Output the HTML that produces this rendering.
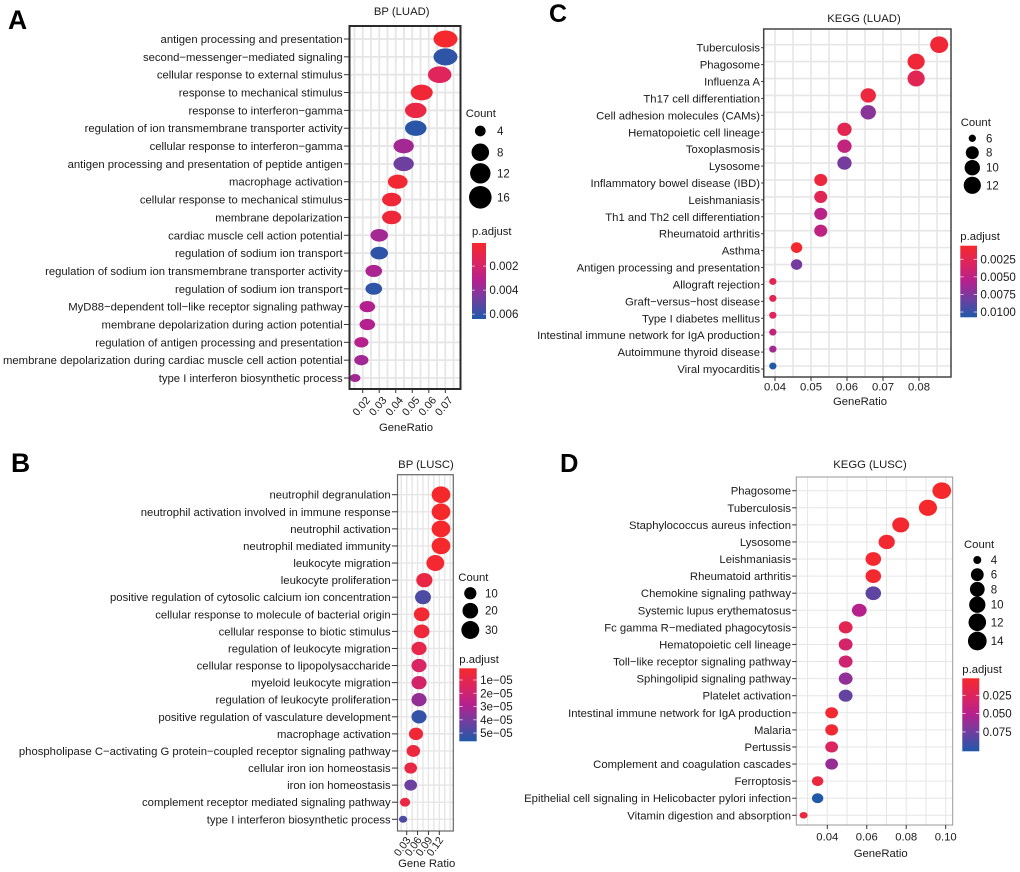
<!DOCTYPE html>
<html lang="en">
<head>
<meta charset="utf-8">
<title>Enrichment dot plots</title>
<style>
html,body{margin:0;padding:0;background:#fff;width:1020px;height:872px;overflow:hidden}
svg{display:block;font-family:"Liberation Sans",Arial,sans-serif;fill:#1a1a1a;filter:blur(0.35px)}
</style>
</head>
<body>
<svg id="figure" width="1020" height="872" viewBox="0 0 1020 872" xmlns="http://www.w3.org/2000/svg">
<defs>
<linearGradient id="padjust-gradient" x1="0" y1="0" x2="0" y2="1">
<stop offset="0" stop-color="#f5282c"/>
<stop offset="0.25" stop-color="#dc2560"/>
<stop offset="0.5" stop-color="#b3218f"/>
<stop offset="0.75" stop-color="#6c409f"/>
<stop offset="1" stop-color="#2059a9"/>
</linearGradient>
</defs>
<text x="8" y="29" font-size="26.5" font-weight="bold" fill="#000">A</text>
<text x="11" y="472" font-size="26.5" font-weight="bold" fill="#000">B</text>
<text x="549" y="22" font-size="25" font-weight="bold" fill="#000">C</text>
<text x="560" y="472" font-size="25.5" font-weight="bold" fill="#000">D</text>
</svg>
<script>
/* ---------- Panel A : BP (LUAD) ---------- */
const termsA = ["antigen processing and presentation","second\u2212messenger\u2212mediated signaling","cellular response to external stimulus","response to mechanical stimulus","response to interferon\u2212gamma","regulation of ion transmembrane transporter activity","cellular response to interferon\u2212gamma","antigen processing and presentation of peptide antigen","macrophage activation","cellular response to mechanical stimulus","membrane depolarization","cardiac muscle cell action potential","regulation of sodium ion transport","regulation of sodium ion transmembrane transporter activity","regulation of sodium ion transport","MyD88\u2212dependent toll\u2212like receptor signaling pathway","membrane depolarization during action potential","regulation of antigen processing and presentation","membrane depolarization during cardiac muscle cell action potential","type I interferon biosynthetic process"];
const ratioA = [0.0701,0.0701,0.0666,0.0557,0.0521,0.0521,0.0448,0.0448,0.0412,0.0375,0.0375,0.03,0.03,0.0267,0.0267,0.0228,0.0228,0.0192,0.0192,0.0154];
const countA = [19,19,18,15,14,14,12,12,11,10,10,8,8,7,7,6,6,5,5,4];
const padjA = [0.0001,0.0061,0.0015,0.0004,0.0008,0.0062,0.0036,0.0048,0.0003,0.0004,0.0005,0.0036,0.0061,0.0034,0.0061,0.0032,0.0032,0.0031,0.0036,0.0036];
const xTicksA = [0.02,0.03,0.04,0.05,0.06,0.07];
const sizeKeysA = [4,8,12,16];
const colorTicksA = [0.002,0.004,0.006];

/* ---------- Panel B : BP (LUSC) ---------- */
const termsB = ["neutrophil degranulation","neutrophil activation involved in immune response","neutrophil activation","neutrophil mediated immunity","leukocyte migration","leukocyte proliferation","positive regulation of cytosolic calcium ion concentration","cellular response to molecule of bacterial origin","cellular response to biotic stimulus","regulation of leukocyte migration","cellular response to lipopolysaccharide","myeloid leukocyte migration","regulation of leukocyte proliferation","positive regulation of vasculature development","macrophage activation","phospholipase C\u2212activating G protein\u2212coupled receptor signaling pathway","cellular iron ion homeostasis","iron ion homeostasis","complement receptor mediated signaling pathway","type I interferon biosynthetic process"];
const ratioB = [0.1246,0.1246,0.1246,0.1246,0.109,0.0787,0.075,0.0713,0.0713,0.064,0.064,0.064,0.064,0.064,0.0557,0.0484,0.041,0.041,0.0254,0.02];
const countB = [34,34,34,34,30,22,21,20,20,18,18,18,18,18,15,13,11,11,7,6];
const padjB = [0.12e-5,0.12e-5,0.12e-5,0.12e-5,0.23e-5,0.78e-5,4.8e-5,0.29e-5,0.5e-5,0.95e-5,1.6e-5,1.8e-5,3.5e-5,5.3e-5,0.4e-5,0.56e-5,0.78e-5,4.25e-5,0.78e-5,4.8e-5];
const xTicksB = [0.03,0.06,0.09,0.12];
const sizeKeysB = [10,20,30];
const colorTicksB = [1e-5,2e-5,3e-5,4e-5,5e-5];
const colorTickLabelsB = ["1e\u221205","2e\u221205","3e\u221205","4e\u221205","5e\u221205"];

/* ---------- Panel C : KEGG (LUAD) ---------- */
const termsC = ["Tuberculosis","Phagosome","Influenza A","Th17 cell differentiation","Cell adhesion molecules (CAMs)","Hematopoietic cell lineage","Toxoplasmosis","Lysosome","Inflammatory bowel disease (IBD)","Leishmaniasis","Th1 and Th2 cell differentiation","Rheumatoid arthritis","Asthma","Antigen processing and presentation","Allograft rejection","Graft\u2212versus\u2212host disease","Type I diabetes mellitus","Intestinal immune network for IgA production","Autoimmune thyroid disease","Viral myocarditis"];
const ratioC = [0.0856,0.0792,0.0792,0.0659,0.0659,0.0593,0.0593,0.0593,0.0527,0.0527,0.0527,0.0527,0.046,0.046,0.0394,0.0394,0.0394,0.0394,0.0394,0.0394];
const countC = [13,12,12,10,10,9,9,9,8,8,8,8,7,7,6,6,6,6,6,6];
const padjC = [0.0011,0.0011,0.0026,0.0014,0.0072,0.0024,0.0047,0.0079,0.0014,0.0026,0.0052,0.0049,0.0006,0.0079,0.0024,0.0024,0.0028,0.0047,0.0062,0.0107];
const xTicksC = [0.04,0.05,0.06,0.07,0.08];
const sizeKeysC = [6,8,10,12];
const colorTicksC = [0.0025,0.005,0.0075,0.01];

/* ---------- Panel D : KEGG (LUSC) ---------- */
const termsD = ["Phagosome","Tuberculosis","Staphylococcus aureus infection","Lysosome","Leishmaniasis","Rheumatoid arthritis","Chemokine signaling pathway","Systemic lupus erythematosus","Fc gamma R\u2212mediated phagocytosis","Hematopoietic cell lineage","Toll\u2212like receptor signaling pathway","Sphingolipid signaling pathway","Platelet activation","Intestinal immune network for IgA production","Malaria","Pertussis","Complement and coagulation cascades","Ferroptosis","Epithelial cell signaling in Helicobacter pylori infection","Vitamin digestion and absorption"];
const ratioD = [0.098,0.091,0.0772,0.0701,0.0633,0.0633,0.0633,0.0562,0.0493,0.0493,0.0493,0.0493,0.0493,0.0422,0.0422,0.0422,0.0422,0.0351,0.0351,0.028];
const countD = [14,13,11,10,9,9,9,8,7,7,7,7,7,6,6,6,6,5,5,4];
const padjD = [0.002,0.002,0.003,0.005,0.003,0.003,0.0815,0.0496,0.0197,0.0317,0.0347,0.0636,0.0795,0.005,0.005,0.0267,0.0616,0.0118,0.1014,0.0118];
const xTicksD = [0.04,0.06,0.08,0.10];
const sizeKeysD = [4,6,8,10,12,14];
const colorTicksD = [0.025,0.05,0.075];

const NS = "http://www.w3.org/2000/svg";
const root = document.getElementById("figure");
const stops = [[245,40,44],[220,37,96],[179,33,143],[108,64,159],[32,89,169]];

function node(parent, tag, attrs, text) {
  const el = document.createElementNS(NS, tag);
  for (const k in attrs) el.setAttribute(k, attrs[k]);
  if (text !== undefined) el.textContent = text;
  parent.appendChild(el);
  return el;
}
function colorAt(t) {
  t = Math.max(0, Math.min(1, t));
  const f = t * (stops.length - 1);
  const i = Math.min(stops.length - 2, Math.floor(f));
  const u = f - i;
  const c = stops[i].map((v, j) => Math.round(v + (stops[i + 1][j] - v) * u));
  return "rgb(" + c.join(",") + ")";
}

function drawPanel(p) {
  const g = node(root, "g", {});
  
  

  const xScale = v => p.xA + (v - p.vA) * (p.xB - p.xA) / (p.vB - p.vA);
  const yScale = i => p.rowTop + i * (p.rowBottom - p.rowTop) / (p.terms.length - 1);
  const cMin = Math.min(...p.counts), cMax = Math.max(...p.counts);
  const unit = c => Math.sqrt(Math.max(0, (c - cMin)) / (cMax - cMin));
  const widthOf = c => p.wMin + (p.wMax - p.wMin) * unit(c);
  const heightOf = c => p.hMin + (p.hMax - p.hMin) * unit(c);
  const colorOf = v => colorAt((v - p.pMin) / (p.pMax - p.pMin));
  const barY = v => p.barTop + (v - p.pMin) / (p.pMax - p.pMin) * (p.barBottom - p.barTop);

  /* title */
  const title = node(g, "text", {x: p.titleX, y: p.titleY, "text-anchor": "middle", "font-size": 11.3}, p.title);
  
  

  /* grid */
  const grid = node(g, "g", {stroke: "#e6e6e6"});
  
  
  const step = p.xTicks[1] - p.xTicks[0];
  for (let v = p.xTicks[0] - step * 2; v < p.xTicks[p.xTicks.length - 1] + step * 2; v += step / 2) {
    const x = xScale(v);
    if (x > p.left + 1 && x < p.right - 1)
      node(grid, "line", {x1: x, x2: x, y1: p.top, y2: p.bottom, "stroke-width": p.gridW});
  }
  p.terms.forEach((t, i) => {
    node(grid, "line", {x1: p.left, x2: p.right, y1: yScale(i), y2: yScale(i), "stroke-width": p.gridW});
  });

  /* points */
  const pts = node(g, "g", {});
  
  
  p.terms.forEach((t, i) => {
    const e = node(pts, "ellipse", {
      cx: xScale(p.ratios[i]), cy: yScale(i),
      rx: widthOf(p.counts[i]) / 2, ry: heightOf(p.counts[i]) / 2,
      fill: colorOf(p.padj[i])
    });
    
    
  });

  /* frame */
  const frame = node(g, "rect", {x: p.left, y: p.top, width: p.right - p.left, height: p.bottom - p.top, fill: "none", stroke: p.frameColor, "stroke-width": p.frameW});
  
  

  /* y axis */
  const yAxis = node(g, "g", {});
  
  
  p.terms.forEach((t, i) => {
    const y = yScale(i) + p.labelDy;
    node(yAxis, "line", {x1: p.left - p.labelGap + 1.2, x2: p.left, y1: y, y2: y, stroke: "#333", "stroke-width": 1});
    const lab = node(yAxis, "text", {x: p.left - p.labelGap, y: y + 4, "text-anchor": "end", "font-size": 11.3}, t);
    
    
  });

  /* x axis */
  const xAxis = node(g, "g", {});
  
  
  p.xTicks.forEach(v => {
    const x = xScale(v);
    node(xAxis, "line", {x1: x, x2: x, y1: p.bottom, y2: p.bottom + 4, stroke: "#333", "stroke-width": 1});
    const s = v.toFixed(2);
    let lab;
    if (p.rotate) {
      lab = node(xAxis, "text", {transform: "translate(" + (x + p.rotDx) + " " + (p.bottom + p.rotDy) + ") rotate(" + p.rotate + ")", "text-anchor": "end", "font-size": 10.7}, s);
    } else {
      lab = node(xAxis, "text", {x: x, y: p.bottom + p.xLabelDy, "text-anchor": "middle", "font-size": 11.3}, s);
    }
    
    
  });
  const xt = node(g, "text", {x: p.xTitleX, y: p.xTitleY, "text-anchor": "middle", "font-size": 11.3}, p.xTitle);
  
  

  /* size legend */
  const sl = node(g, "g", {});
  
  
  const ct = node(sl, "text", {x: p.countX, y: p.countY, "font-size": 11.3}, "Count");
  
  
  p.sizeKeys.forEach((c, i) => {
    const y = p.keyYs[i];
    const k = node(sl, "circle", {cx: p.keyX, cy: y, r: widthOf(c) / 2, fill: "#000"});
    
    
    const l = node(sl, "text", {x: p.keyLabelX, y: y + 4, "font-size": 11.5}, String(c));
    
    
  });

  /* colour legend */
  const cl = node(g, "g", {});
  
  
  const pt = node(cl, "text", {x: p.barLeft, y: p.padjY, "font-size": 11.3}, "p.adjust");
  
  
  const bar = node(cl, "rect", {x: p.barLeft, y: p.barTop, width: p.barRight - p.barLeft, height: p.barBottom - p.barTop, fill: "url(#padjust-gradient)"});
  
  
  p.colorTicks.forEach((v, i) => {
    const y = barY(v);
    const w = (p.barRight - p.barLeft) / 5;
    node(cl, "line", {x1: p.barLeft, x2: p.barLeft + w, y1: y, y2: y, stroke: "#fff", "stroke-width": 0.8, "stroke-opacity": 0.8});
    node(cl, "line", {x1: p.barRight - w, x2: p.barRight, y1: y, y2: y, stroke: "#fff", "stroke-width": 0.8, "stroke-opacity": 0.8});
    const s = p.colorTickLabels ? p.colorTickLabels[i] : v.toFixed(p.colorDigits);
    const l = node(cl, "text", {x: p.barRight + 3.4, y: y + 4, "font-size": 11.6}, s);
    
    
  });
}

drawPanel({id:"bp-luad", title:"BP (LUAD)", titleX:401.7, titleY:15, xTitle:"GeneRatio", xTitleX:406, xTitleY:431,
  terms:termsA, ratios:ratioA, counts:countA, padj:padjA, xTicks:xTicksA, sizeKeys:sizeKeysA, colorTicks:colorTicksA, colorDigits:3,
  left:349.5, right:460.5, top:26, bottom:389, xA:362.7, vA:0.02, xB:445.3, vB:0.07, rowTop:39, rowBottom:378, labelDy:0, labelGap:6.8,
  wMin:10.7, wMax:24, hMin:8, hMax:17, pMin:0.00008, pMax:0.0064, frameColor:"#2b2b2b", frameW:2, gridW:1.8, rotate:-50, rotDx:8, rotDy:11.5,
  countX:465.7, countY:117, keyX:480.3, keyYs:[131,152.3,173.3,197.3], keyLabelX:497, padjY:235,
  barLeft:472, barRight:486, barTop:243, barBottom:319});

drawPanel({id:"bp-lusc", title:"BP (LUSC)", titleX:426, titleY:468, xTitle:"Gene Ratio", xTitleX:426.7, xTitleY:867,
  terms:termsB, ratios:ratioB, counts:countB, padj:padjB, xTicks:xTicksB, sizeKeys:sizeKeysB, colorTicks:colorTicksB, colorTickLabels:colorTickLabelsB,
  left:397.5, right:453.3, top:474.7, bottom:831, xA:406.7, vA:0.03, xB:439.3, vB:0.12, rowTop:494.7, rowBottom:819.3, labelDy:0, labelGap:6.8,
  wMin:8.3, wMax:18.7, hMin:7, hMax:16.7, pMin:0.12e-5, pMax:5.62e-5, frameColor:"#666", frameW:1.2, gridW:1.4, rotate:-55, rotDx:4.5, rotDy:9,
  countX:458.3, countY:581, keyX:470.3, keyYs:[593.3,610.7,630], keyLabelX:485, padjY:663,
  barLeft:459.3, barRight:476.7, barTop:668.3, barBottom:741.3});

drawPanel({id:"kegg-luad", title:"KEGG (LUAD)", titleX:864, titleY:22, xTitle:"GeneRatio", xTitleX:860, xTitleY:405,
  terms:termsC, ratios:ratioC, counts:countC, padj:padjC, xTicks:xTicksC, sizeKeys:sizeKeysC, colorTicks:colorTicksC, colorDigits:4,
  left:763.7, right:951, top:29, bottom:377, xA:775, vA:0.04, xB:919, vB:0.08, rowTop:44.7, rowBottom:366, labelDy:3, labelGap:3.7, xLabelDy:13.5,
  wMin:7.3, wMax:18, hMin:7, hMax:16.7, pMin:0.00057, pMax:0.01075, frameColor:"#444", frameW:1.5, gridW:1.6,
  countX:960.7, countY:126, keyX:972.3, keyYs:[138.3,152.7,167.7,185.3], keyLabelX:986, padjY:240,
  barLeft:960.3, barRight:977, barTop:245.7, barBottom:317.3});

drawPanel({id:"kegg-lusc", title:"KEGG (LUSC)", titleX:870, titleY:468, xTitle:"GeneRatio", xTitleX:880.7, xTitleY:857,
  terms:termsD, ratios:ratioD, counts:countD, padj:padjD, xTicks:xTicksD, sizeKeys:sizeKeysD, colorTicks:colorTicksD, colorDigits:3,
  left:796.3, right:952.7, top:477, bottom:825, xA:827.3, vA:0.04, xB:945.7, vB:0.10, rowTop:490.7, rowBottom:815.3, labelDy:0, labelGap:5.3, xLabelDy:15.5,
  wMin:8, wMax:18.7, hMin:6.7, hMax:16.7, pMin:0.0018, pMax:0.1014, frameColor:"#999", frameW:1, gridW:1,
  countX:964, countY:548, keyX:977.3, keyYs:[560,574.7,589.3,604.7,622.3,641], keyLabelX:990.7, padjY:673,
  barLeft:962.3, barRight:979.3, barTop:678.3, barBottom:751.3});
</script>
</body>
</html>
